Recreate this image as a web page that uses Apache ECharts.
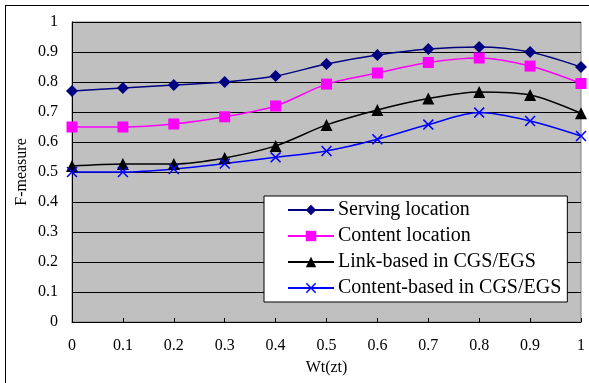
<!DOCTYPE html>
<html>
<head>
<meta charset="utf-8">
<script src="https://cdn.jsdelivr.net/npm/echarts@6/dist/echarts.min.js"></script>
<style>
html,body{margin:0;padding:0;background:#fff;}
#chart{width:589px;height:383px;}
</style>
</head>
<body>
<div id="chart"></div>
<script>
var xValues = [0, 0.1, 0.2, 0.3, 0.4, 0.5, 0.6, 0.7, 0.8, 0.9, 1];
var servingLocation = [0.77, 0.78, 0.79, 0.80, 0.82, 0.86, 0.89, 0.91, 0.917, 0.90, 0.85];
var contentLocation = [0.65, 0.65, 0.66, 0.684, 0.72, 0.793, 0.83, 0.865, 0.88, 0.853, 0.795];
var linkBased = [0.52, 0.527, 0.527, 0.547, 0.587, 0.657, 0.707, 0.745, 0.767, 0.757, 0.696];
var contentBased = [0.50, 0.50, 0.51, 0.528, 0.549, 0.57, 0.609, 0.658, 0.698, 0.67, 0.62];
var seriesNames = ['Serving location', 'Content location', 'Link-based in CGS/EGS', 'Content-based in CGS/EGS'];
var xName = 'Wt(zt)';
var yName = 'F-measure';

function pairs(ys) { return xValues.map(function (x, i) { return [x, ys[i]]; }); }
function fmt(v) { return String(Math.round(v * 10) / 10); }

var font = 'Liberation Serif, Times New Roman, serif';
var crossPath = 'path://M0,1 L1,0 L5,4 L9,0 L10,1 L6,5 L10,9 L9,10 L5,6 L1,10 L0,9 L4,5 Z';

var chart = echarts.init(document.getElementById('chart'), null, {renderer: 'canvas'});
chart.setOption({
  animation: false,
  backgroundColor: '#ffffff',
  grid: {
    left: 72, right: 8, top: 22, bottom: 61,
    show: true, backgroundColor: '#C0C0C0', borderColor: '#808080', borderWidth: 1
  },
  graphic: [
    {type: 'line', shape: {x1: 5, y1: 5.5, x2: 589, y2: 5.5}, style: {stroke: '#000', lineWidth: 1}},
    {type: 'line', shape: {x1: 5.5, y1: 5, x2: 5.5, y2: 383}, style: {stroke: '#000', lineWidth: 1}}
  ],
  xAxis: {
    type: 'value', min: 0, max: 1, interval: 0.1,
    name: xName, nameLocation: 'middle', nameGap: 38, nameMoveOverlap: false,
    nameTextStyle: {fontFamily: font, fontSize: 16, color: '#000'},
    axisLine: {show: true, lineStyle: {color: '#000', width: 1}},
    axisTick: {show: true, inside: true, length: 4, lineStyle: {color: '#000'}},
    axisLabel: {fontFamily: font, fontSize: 16, color: '#000', margin: 16, formatter: fmt},
    splitLine: {show: false}
  },
  yAxis: {
    type: 'value', min: 0, max: 1, interval: 0.1,
    name: yName, nameLocation: 'middle', nameGap: 42, nameRotate: 90, nameMoveOverlap: false,
    nameTextStyle: {fontFamily: font, fontSize: 16, color: '#000'},
    axisLine: {show: true, lineStyle: {color: '#000', width: 1}},
    axisTick: {show: true, inside: true, length: 4, lineStyle: {color: '#000'}},
    axisLabel: {fontFamily: font, fontSize: 16, color: '#000', margin: 14, formatter: fmt},
    splitLine: {show: true, lineStyle: {color: '#000', width: 1}}
  },
  legend: {
    orient: 'vertical', left: 264, top: 196,
    backgroundColor: '#ffffff', borderColor: '#000', borderWidth: 1,
    padding: [4, 6, 4, 23],
    itemWidth: 46, itemHeight: 13, itemGap: 6,
    textStyle: {fontFamily: font, fontSize: 20, color: '#000', padding: [0, 0, 0, -1]},
    data: seriesNames
  },
  series: [
    {
      name: seriesNames[0], type: 'line', data: pairs(servingLocation), smooth: 0.3,
      symbol: 'diamond', symbolSize: 12,
      lineStyle: {color: '#000080', width: 1.5}, itemStyle: {color: '#000080'}
    },
    {
      name: seriesNames[1], type: 'line', data: pairs(contentLocation), smooth: 0.3,
      symbol: 'rect', symbolSize: 11,
      lineStyle: {color: '#FF00FF', width: 1.5}, itemStyle: {color: '#FF00FF'}
    },
    {
      name: seriesNames[2], type: 'line', data: pairs(linkBased), smooth: 0.3,
      symbol: 'triangle', symbolSize: 12,
      lineStyle: {color: '#000000', width: 1.5}, itemStyle: {color: '#000000'}
    },
    {
      name: seriesNames[3], type: 'line', data: pairs(contentBased), smooth: 0.3,
      symbol: crossPath, symbolSize: 11,
      lineStyle: {color: '#0000FF', width: 1.5}, itemStyle: {color: '#0000FF'}
    }
  ]
});
</script>
</body>
</html>
